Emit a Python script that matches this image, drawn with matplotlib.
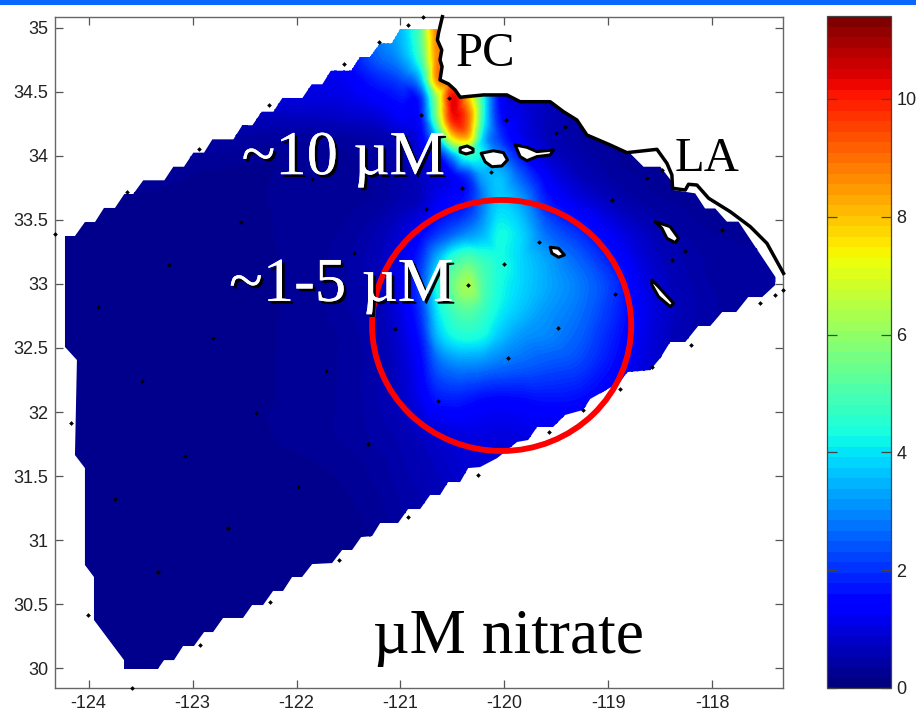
import numpy as np
import matplotlib
matplotlib.use("Agg")
import matplotlib.pyplot as plt
import matplotlib.patheffects as pe
import matplotlib.tri as mtri
from matplotlib.cm import ScalarMappable
from matplotlib.colors import Normalize
from matplotlib.patches import Polygon, Ellipse, Rectangle

# ---- data (lon / lat / uM nitrate) ----
grid_lon = [-124.25, -123.5, -122.75, -122, -121.5, -121.2, -121, -120.8, -120.65, -120.5,
            -120.35, -120.2, -120.05, -119.85, -119.6, -119.3, -119, -118.7, -118.3, -117.3]
grid_lat = [30, 31, 31.5, 31.85, 32.1, 32.4, 32.6, 32.8, 33, 33.2,
            33.4, 33.65, 33.85, 34, 34.15, 34.3, 34.45, 34.6, 34.8, 35.05]
nitrate = [
 [.15,.15,.15,.15,.15,.15,.15,.15,.15,.15,.15,.15,.15,.15,.15,.15,.15,.15,.15,.15],
 [.15,.15,.15,.15,.15,.2,.3,.35,.4,.45,.5,.5,.5,.5,.5,.4,.3,.2,.15,.15],
 [.15,.15,.15,.15,.2,.3,.4,.5,.6,.7,.8,.8,.8,.8,.8,.7,.5,.3,.2,.15],
 [.15,.15,.15,.2,.3,.4,.5,.7,.85,.95,1.0,1.0,.95,1.0,1.05,1.0,.9,.6,.3,.2],
 [.15,.15,.15,.2,.3,.45,.65,1.1,1.6,1.7,1.6,1.45,1.4,1.45,1.55,1.5,1.2,.8,.4,.2],
 [.15,.15,.15,.2,.3,.45,.75,1.4,2.5,3.0,3.1,3.0,2.8,2.6,2.4,2.2,1.6,1.0,.5,.2],
 [.15,.15,.15,.2,.3,.5,.85,1.7,3.4,4.2,4.4,4.2,3.6,3.1,2.9,2.5,1.8,1.1,.5,.2],
 [.15,.15,.15,.2,.35,.55,1.0,2.0,3.9,4.8,5.2,4.7,4.1,3.6,3.1,2.7,2.0,1.2,.55,.25],
 [.15,.15,.15,.2,.35,.6,1.1,2.2,4.2,5.4,6.2,5.0,4.3,3.8,3.3,2.8,2.1,1.1,.5,.25],
 [.15,.15,.15,.2,.35,.6,1.0,1.9,3.3,4.5,5.0,4.6,4.3,3.8,3.2,2.5,1.7,.9,.45,.25],
 [.15,.15,.15,.2,.3,.5,.8,1.3,1.9,2.4,2.9,3.4,4.2,3.8,2.6,1.9,1.2,.7,.35,.2],
 [.15,.15,.15,.2,.25,.3,.45,.65,1.1,1.4,1.7,2.8,3.7,3.2,1.7,1.0,.6,.35,.25,.2],
 [.2,.25,.15,.2,.25,.3,.45,.65,.9,1.3,2.0,3.3,3.5,2.4,1.2,.6,.35,.25,.2,.2],
 [.25,.3,.25,.2,.25,.3,.5,.8,1.3,3.0,4.5,4.0,2.8,1.6,.8,.45,.3,.2,.2,.2],
 [.3,.4,.35,.3,.35,.45,.65,1.2,3.5,7.5,8.0,3.5,2.0,1.1,.6,.35,.25,.2,.2,.2],
 [.4,.5,.5,.6,.7,.85,1.2,1.6,5.5,10.0,9.0,4.2,1.6,1.0,.6,.4,.3,.2,.2,.2],
 [.4,.5,.8,.9,1.0,1.3,1.6,1.9,6.0,10.3,8.0,4.2,1.4,.9,.6,.5,.3,.2,.2,.2],
 [.4,.5,.8,1.0,1.2,1.8,2.2,3.5,8.5,9.0,7.0,4.0,1.4,.9,.6,.5,.3,.2,.2,.2],
 [.4,.5,.8,1.1,1.5,2.6,3.2,5.0,8.6,8.0,6.0,3.5,1.4,.9,.6,.5,.3,.2,.2,.2],
 [.4,.5,.8,1.2,1.6,3.0,3.5,5.2,8.8,8.0,6.0,3.5,1.4,.9,.6,.5,.3,.2,.2,.2],
]

domain_lon = [-124.228,-124.132,-124.036,-123.939,-123.853,-123.747,-123.657,-123.571,-123.475,-123.272,
 -123.186,-123.083,-122.993,-122.89,-122.81,-122.608,-122.522,-122.425,-122.335,-122.223,
 -122.137,-121.944,-121.854,-121.752,-121.671,-121.475,-121.389,-121.293,-121.196,-121.084,
 -121.004,-120.651,-120.635,-120.645,-120.603,-120.62,-120.6,-120.62,-120.539,-120.475,
 -120.426,-120.202,-119.977,-119.849,-119.56,-119.432,-119.303,-119.207,-118.983,-118.822,
 -118.79,-118.662,-118.5,-118.389,-118.373,-118.165,-118.07,-117.972,-117.86,-117.748,
 -117.395,-117.395,-117.52,-117.655,-117.77,-117.905,-118.02,-118.136,-118.26,-118.405,
 -118.5,-118.597,-118.818,-118.887,-119.175,-119.243,-119.416,-119.532,-119.686,-119.772,
 -119.878,-120.07,-120.234,-120.349,-120.426,-120.542,-120.619,-120.715,-120.811,-120.927,
 -121.023,-121.196,-121.273,-121.379,-121.466,-121.562,-121.658,-121.85,-121.947,-122.043,
 -122.13,-122.226,-122.322,-122.428,-122.515,-122.707,-122.803,-122.89,-122.987,-123.092,
 -123.179,-123.275,-123.362,-123.66,-123.66,-123.949,-123.949,-124.036,-124.036,-124.132,
 -124.113,-124.228]
domain_lat = [33.375,33.375,33.484,33.484,33.594,33.594,33.703,33.703,33.81,33.81,
 33.916,33.916,34.026,34.026,34.13,34.13,34.24,34.24,34.346,34.346,
 34.453,34.453,34.56,34.56,34.666,34.666,34.773,34.773,34.88,34.88,
 34.99,34.99,34.958,34.906,34.828,34.75,34.698,34.594,34.563,34.516,
 34.459,34.477,34.477,34.424,34.424,34.346,34.281,34.164,34.086,34.026,
 34.02,33.916,33.916,33.8,33.734,33.708,33.59,33.59,33.487,33.487,
 33.057,32.992,32.898,32.898,32.781,32.781,32.672,32.672,32.547,32.547,
 32.422,32.328,32.312,32.234,32.102,32.016,31.977,31.883,31.883,31.781,
 31.766,31.64,31.57,31.562,31.453,31.453,31.352,31.352,31.242,31.242,
 31.133,31.133,31.031,31.023,30.922,30.922,30.82,30.812,30.711,30.711,
 30.602,30.602,30.492,30.492,30.391,30.391,30.281,30.281,30.172,30.172,
 30.062,30.062,29.961,29.961,30.062,30.375,30.711,30.805,31.562,31.664,
 32.406,32.508]

coast_lon = [-120.597,-120.635,-120.645,-120.603,-120.62,-120.6,-120.62,-120.539,-120.475,-120.426,
 -120.202,-119.977,-119.849,-119.56,-119.432,-119.303,-119.207,-118.983,-118.822,-118.533,
 -118.437,-118.389,-118.383,-118.26,-118.229,-118.148,-118.036,-117.828,-117.635,-117.475,-117.315]
coast_lat = [35.088,34.958,34.906,34.828,34.75,34.698,34.594,34.563,34.516,34.459,
 34.477,34.477,34.424,34.424,34.346,34.281,34.164,34.086,34.026,34.052,
 33.943,33.852,33.748,33.734,33.779,33.773,33.67,33.565,33.448,33.318,33.083]

island_san_miguel = [(-120.426,34.0625),(-120.359,34.078),(-120.302,34.055),(-120.302,34.031),(-120.369,34.016),(-120.426,34.031)]
island_santa_rosa = [(-120.224,34.021),(-120.106,34.041),(-120.01,34.026),(-119.971,33.969),(-120.025,33.922),(-120.121,33.916),(-120.186,33.955)]
island_santa_cruz = [(-119.897,34.086),(-119.784,34.068),(-119.688,34.034),(-119.528,34.047),(-119.56,34.008),(-119.688,33.995),(-119.784,33.963),(-119.849,33.995)]
island_catalina = [(-118.55,33.487),(-118.406,33.448),(-118.325,33.357),(-118.357,33.323),(-118.437,33.357),(-118.485,33.435)]
island_san_nicolas = [(-119.56,33.287),(-119.48,33.279),(-119.423,33.227),(-119.48,33.209),(-119.544,33.24)]
island_san_clemente = [(-118.581,33.031),(-118.518,32.979),(-118.373,32.849),(-118.405,32.823),(-118.518,32.901),(-118.581,32.992)]
islands = [island_san_miguel, island_santa_rosa, island_santa_cruz,
           island_catalina, island_san_nicolas, island_san_clemente]

station_lon = [-124.324,-123.628,-122.938,-122.262,-121.546,-121.206,-121.848,-122.537,-123.227,-123.913,
 -121.444,-122.807,-123.49,-121.716,-122.393,-124.17,-121.315,-123.073,-121.988,-123.747,
 -120.924,-122.662,-121.591,-123.33,-122.255,-124.004,-122.929,-123.586,-120.635,-120.25,
 -120.78,-120.924,-120.529,-120.805,-119.984,-119.416,-119.505,-120.131,-120.41,-120.754,
 -118.485,-118.63,-118.966,-117.908,-119.666,-120.003,-120.347,-118.261,-118.389,-118.935,
 -117.401,-117.32,-117.54,-119.48,-119.961,-121.052,-118.893,-119.24,-119.57,-118.203,-118.578]
station_lat = [33.391,33.721,34.055,34.398,34.721,34.891,33.82,33.482,33.148,32.823,
 33.245,32.576,32.245,32.323,31.99,31.912,31.75,31.659,31.416,31.32,
 31.182,31.091,30.844,30.752,30.516,30.414,30.18,29.841,32.088,31.508,
 35.088,35.021,34.451,34.32,34.281,34.229,34.177,33.877,33.752,33.584,
 33.891,33.826,33.656,33.422,33.326,33.154,32.992,33.26,33.188,32.92,
 32.914,32.953,32.849,32.654,32.42,32.646,32.182,32.016,31.846,32.523,32.352]

x_ticks = [-124,-123,-122,-121,-120,-119,-118]
x_labels = ["-124","-123","-122","-121","-120","-119","-118"]
y_ticks = [30,30.5,31,31.5,32,32.5,33,33.5,34,34.5,35]
y_labels = ["30","30.5","31","31.5","32","32.5","33","33.5","34","34.5","35"]
cbar_ticks = [0,2,4,6,8,10]
cbar_labels = ["0","2","4","6","8","10"]
vmax = 11.4

# ---- figure ----
W, H = 916, 723
plt.rcParams['font.family'] = ['Liberation Sans', 'DejaVu Sans']
fig = plt.figure(figsize=(W/100, H/100), dpi=100, facecolor='white')
fig.patches.append(Rectangle((0, 1-4.7/H), 1, 4.7/H, transform=fig.transFigure, color='#0a68fa', lw=0))

def px_axes(l, t, r, b):
    return fig.add_axes([l/W, 1-b/H, (r-l)/W, (b-t)/H])

ax = px_axes(55, 16.7, 783, 688)

# smooth the hand-read field with matplotlib's own triangulation tools
lon2d, lat2d = np.meshgrid(grid_lon, grid_lat)
tri = mtri.Triangulation(lon2d.ravel(), lat2d.ravel())
zvals = np.array(nitrate).ravel()
refiner = mtri.UniformTriRefiner(tri)
tri_f, z_f = refiner.refine_field(zvals, triinterpolator=mtri.CubicTriInterpolator(tri, zvals, kind='geom'), subdiv=3)
z_f = np.clip(z_f, 0.05, vmax - 0.01)
levels = np.linspace(0, vmax, 129)
norm = Normalize(0, vmax)
cf = ax.tricontourf(tri_f, z_f, levels=levels, cmap='jet', norm=norm)
cf.set_edgecolor('face')
cf.set_linewidth(0.3)
domain = Polygon(np.column_stack([domain_lon, domain_lat]), closed=True, transform=ax.transData,
                 fc='none', ec='none')
ax.add_patch(domain)
cf.set_clip_path(domain)

for isl in islands:
    ax.add_patch(Polygon(isl, closed=True, fc='white', ec='black', lw=2.2, zorder=3, joinstyle='round'))
ax.plot(coast_lon, coast_lat, color='black', lw=2.5, zorder=3, clip_on=False, solid_joinstyle='round')
ax.plot(station_lon, station_lat, ls='none', marker='D', ms=2.4, mfc='black', mec='none', zorder=4, clip_on=False)

ax.add_patch(Ellipse((-120.027, 32.676), 2.493, 1.961, fc='none', ec='#ff0000', lw=4.2, zorder=5))

ax.set_xlim(-124.324, -117.32)
ax.set_ylim(29.844, 35.088)
ax.set_xticks(x_ticks, x_labels)
ax.set_yticks(y_ticks, y_labels)
ax.tick_params(direction='in', length=5.5, width=0.9, color='#555555', labelcolor='#222222',
               labelsize=13, top=True, right=True, pad=5)
for s in ax.spines.values():
    s.set_color('#666666')
    s.set_linewidth(1.0)

serif = ['Liberation Serif', 'DejaVu Serif']
shadow = [pe.withSimplePatchShadow(offset=(2, -2), shadow_rgbFace='black', alpha=1.0), pe.Normal()]
ax.text(-120.57, 33.975, "~10 µM", family=serif, fontsize=45, color='white', ha='right', va='center',
        path_effects=shadow, zorder=6)
ax.text(-120.49, 32.985, "~1-5 µM", family=serif, fontsize=45, color='white', ha='right', va='center',
        path_effects=shadow, zorder=6)
ax.text(-120.47, 34.8, "PC", family=serif, fontsize=35, color='black', ha='left', va='center', zorder=6)
ax.text(-118.055, 33.98, "LA", family=serif, fontsize=35, color='black', ha='center', va='center', zorder=6)
ax.text(-121.26, 30.235, "µM nitrate", family=serif, fontsize=45.6, color='black', ha='left', va='center', zorder=6)

cax = px_axes(827, 16.5, 891, 688)
cb = fig.colorbar(ScalarMappable(norm=norm, cmap=plt.get_cmap('jet', 64)), cax=cax, ticks=cbar_ticks)
cb.set_ticklabels(cbar_labels)
cax.tick_params(direction='in', length=7, width=0.9, color='#444444', labelcolor='#222222',
                labelsize=13, left=True, right=True, pad=4)
cb.outline.set_edgecolor('#444444')
cb.outline.set_linewidth(0.9)

fig.savefig('out.png', dpi=100)
